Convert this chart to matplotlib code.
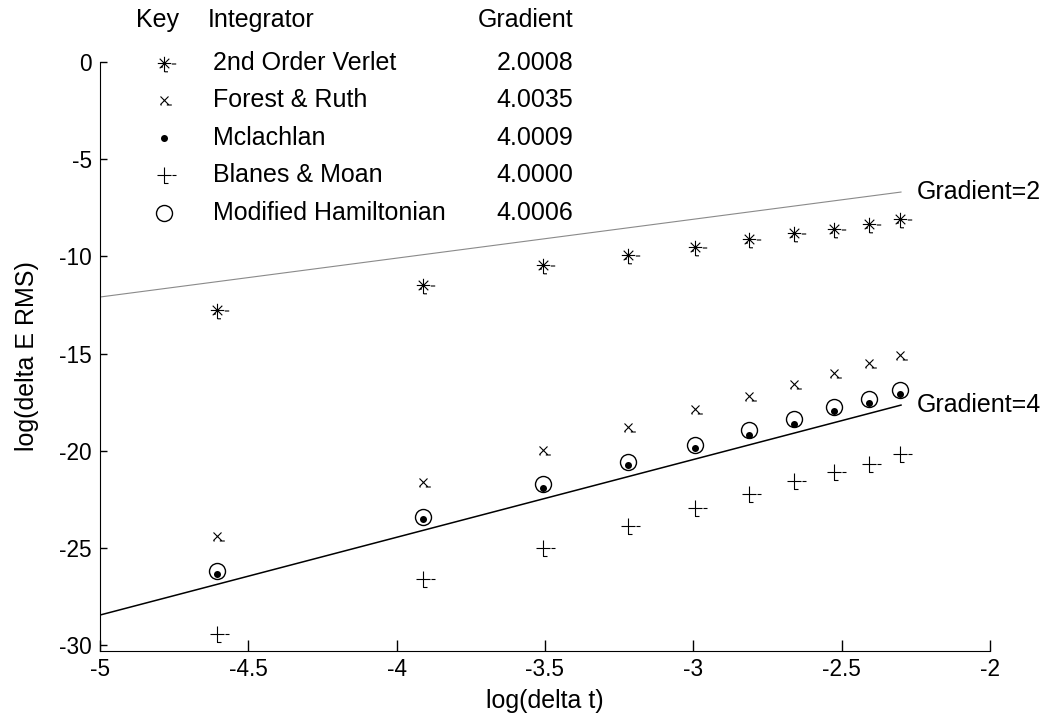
import numpy as np
import matplotlib
matplotlib.use("Agg")
import matplotlib.pyplot as plt
from matplotlib.path import Path

plt.rcParams['font.family'] = ['Liberation Sans', 'DejaVu Sans']

# log of the time step used for each run
log_dt = [-4.605, -3.912, -3.507, -3.219, -2.996, -2.813, -2.659, -2.526, -2.408, -2.303]

# log of the RMS energy error for each integrator
verlet = [-12.76, -11.48, -10.45, -9.93, -9.50, -9.13, -8.78, -8.61, -8.34, -8.10]
forest_ruth = [-24.40, -21.60, -19.97, -18.80, -17.87, -17.19, -16.54, -16.02, -15.51, -15.08]
mclachlan = [-26.35, -23.52, -21.94, -20.74, -19.88, -19.20, -18.60, -17.95, -17.53, -17.09]
blanes_moan = [-29.40, -26.60, -24.98, -23.86, -22.94, -22.20, -21.56, -21.09, -20.66, -20.17]
mod_ham = [-26.20, -23.40, -21.73, -20.57, -19.71, -18.94, -18.34, -17.77, -17.36, -16.88]

names = ['2nd Order Verlet', 'Forest & Ruth', 'Mclachlan', 'Blanes & Moan', 'Modified Hamiltonian']
gradients = ['2.0008', '4.0035', '4.0009', '4.0000', '4.0006']

# reference slopes and their intercepts
ref_slopes = [2, 4]
ref_intercepts = [-2.09, -8.45]
ref_x = [-5.0, -2.3]


def stroke_marker(segments):
    verts, codes = [], []
    for seg in segments:
        for i, p in enumerate(seg):
            verts.append(p)
            codes.append(Path.MOVETO if i == 0 else Path.LINETO)
    return Path(verts, codes)


star_m = stroke_marker([
    [(-6.7, 0), (6.7, 0)], [(0, 6.7), (0, -8.3)],
    [(-4.8, 4.8), (4.8, -4.8)], [(-4.8, -4.8), (4.8, 4.8)],
    [(7.3, -0.5), (11.7, -0.5)], [(0, -8.3), (3.5, -8.3)],
    [(-3.5, -3.5), (-1.5, -3.5)],
])
x_m = stroke_marker([
    [(-4, 4), (4, -4)], [(-4, -4), (4, 4)],
    [(2.3, -4.5), (7.3, -4.5)], [(-4, -4.5), (-2.8, -4.5)],
])
plus_m = stroke_marker([
    [(-7.3, 0), (7.3, 0)], [(0, 8.3), (0, -8.3)],
    [(0, -8.3), (4, -8.3)], [(8.3, 0), (12.3, 0)],
])

px = 72 / 100.0  # points per pixel at dpi 100
styles = [
    dict(marker=star_m, ms=2 * 11.7 * px, mew=0.8, mfc='none', mec='black'),
    dict(marker=x_m, ms=2 * 7.3 * px, mew=0.8, mfc='none', mec='black'),
    dict(marker='o', ms=7 * px, mew=0, mfc='black', mec='black'),
    dict(marker=plus_m, ms=2 * 12.3 * px, mew=0.8, mfc='none', mec='black'),
    dict(marker='o', ms=16 * px, mew=1.0, mfc='none', mec='black'),
]

fs = 18
tick_fs = 16.3

fig = plt.figure(figsize=(10.48, 7.17), dpi=100)
ax = fig.add_axes([100 / 1048, 66 / 717, 890 / 1048, 589 / 717])

series = [verlet, forest_ruth, mclachlan, blanes_moan, mod_ham]
for ys, st in zip(series, styles):
    ax.plot(log_dt, ys, linestyle='none', **st)

# reference gradient lines
gx = np.array(ref_x)
ax.plot(gx, ref_slopes[0] * gx + ref_intercepts[0], color='#8a8a8a', lw=0.8)
ax.plot(gx, ref_slopes[1] * gx + ref_intercepts[1], color='black', lw=1.1)
for s, c in zip(ref_slopes, ref_intercepts):
    ax.annotate('Gradient=%d' % s, xy=(gx[-1], s * gx[-1] + c), xytext=(16, 0),
                textcoords='offset pixels', va='center', ha='left', fontsize=fs,
                annotation_clip=False)

ax.set_xlim(-5, -2)
ax.set_ylim(-30.3, 0)
ax.set_xticks([-5, -4.5, -4, -3.5, -3, -2.5, -2])
ax.set_xticklabels(['-5', '-4.5', '-4', '-3.5', '-3', '-2.5', '-2'])
ax.set_yticks([0, -5, -10, -15, -20, -25, -30])
ax.set_yticklabels(['0', '-5', '-10', '-15', '-20', '-25', '-30'])
ax.tick_params(direction='in', length=8, width=1, labelsize=tick_fs, pad=5)
ax.tick_params(axis='y', length=5, pad=6)
for side in ['top', 'right']:
    ax.spines[side].set_visible(False)
ax.spines['left'].set_bounds(-30.3, 0)
ax.set_xlabel('log(delta t)', fontsize=fs, labelpad=6)
ax.set_ylabel('log(delta E RMS)', fontsize=fs, labelpad=14)

# key table above the data
fig.text(158 / 1048, 1 - 20 / 717, 'Key', ha='center', va='center', fontsize=fs)
fig.text(208 / 1048, 1 - 20 / 717, 'Integrator', ha='left', va='center', fontsize=fs)
fig.text(573 / 1048, 1 - 20 / 717, 'Gradient', ha='right', va='center', fontsize=fs)
row_y = [63, 100, 138, 175, 213]
for ry, name, grad, st in zip(row_y, names, gradients, styles):
    fy = 1 - ry / 717
    ax.plot([164 / 1048], [fy], transform=fig.transFigure, clip_on=False,
            linestyle='none', **st)
    fig.text(213 / 1048, fy, name, ha='left', va='center', fontsize=fs)
    fig.text(573 / 1048, fy, grad, ha='right', va='center', fontsize=fs)

plt.savefig('out.png', dpi=100)
